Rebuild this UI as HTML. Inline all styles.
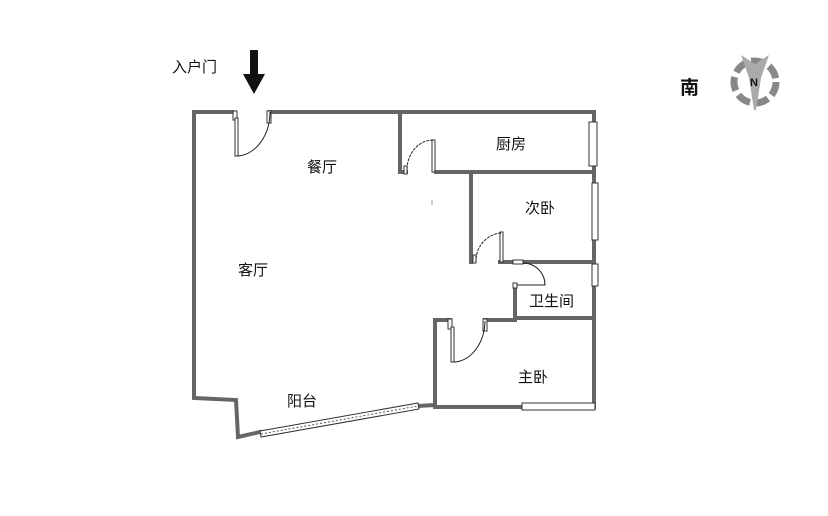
<!DOCTYPE html>
<html><head><meta charset="utf-8"><style>
html,body{margin:0;padding:0;background:#fff;width:828px;height:516px;overflow:hidden}
text{font-family:"Liberation Sans","Noto Sans CJK SC",sans-serif;font-size:15px;fill:#111}
</style></head><body>
<svg width="828" height="516" viewBox="0 0 828 516">
<g stroke="#666" stroke-width="4" fill="none" stroke-linecap="square">
<polyline points="232,112 194,112 194,398 236,400 238,437 260,432"/>
<polyline points="418,406 435,405"/>
<line x1="435" y1="407" x2="522" y2="407"/>
<line x1="270" y1="112" x2="594" y2="112"/>
<line x1="594" y1="112" x2="594" y2="122"/>
<line x1="594" y1="166" x2="594" y2="183"/>
<line x1="594" y1="240" x2="594" y2="264"/>
<line x1="594" y1="286" x2="594" y2="407"/>
<line x1="400" y1="112" x2="400" y2="172"/>
<line x1="400" y1="172" x2="406" y2="172"/>
<line x1="436" y1="172" x2="594" y2="172"/>
<line x1="471" y1="172" x2="471" y2="262"/>
<line x1="500" y1="262" x2="594" y2="262"/>
<line x1="515" y1="285" x2="515" y2="318"/>
<line x1="515" y1="318" x2="594" y2="318"/>
<line x1="435" y1="320" x2="450" y2="320"/>
<line x1="485" y1="320" x2="515" y2="320"/>
<line x1="435" y1="320" x2="435" y2="407"/>
</g>
<g stroke="#333" stroke-width="1" fill="#fff">
<rect x="233" y="111" width="4" height="9"/><rect x="235" y="118" width="3" height="38"/><rect x="267" y="111" width="4" height="12"/>
<rect x="432" y="140" width="3" height="32"/><rect x="404" y="166" width="3" height="8"/>
<rect x="500" y="232" width="3" height="30"/><rect x="473" y="255" width="3" height="8"/>
<rect x="448" y="319" width="4" height="10"/><rect x="451" y="327" width="3" height="35"/><rect x="483" y="319" width="4" height="12"/>
<rect x="589" y="122" width="8" height="44"/><rect x="592" y="183" width="6" height="57"/><rect x="592" y="264" width="6" height="22"/>
<rect x="522" y="403" width="73" height="7"/>
<polygon points="260,431 418,403 419,409 261,437"/>
<rect x="513" y="283" width="4" height="5"/><rect x="513" y="260" width="10" height="4"/>
</g>
<line x1="261" y1="434" x2="418" y2="406" stroke="#555" stroke-dasharray="2,2"/>
<g stroke="#222" stroke-width="1" fill="none">
<path d="M237,156 A34,44 0 0 0 270,112"/>
<path d="M433,140 A26,30 0 0 0 407,170" stroke-dasharray="3,1"/>
<path d="M501,233 A27,28 0 0 0 476,262" stroke-dasharray="3,1"/>
<path d="M453,362 A32,42 0 0 0 485,321"/>
<path d="M523,263 A22,22 0 0 1 545,285 L517,285"/>
</g>
<line x1="432" y1="200" x2="432" y2="205" stroke="#999"/>
<polygon points="250,50 258,50 258,74 265,74 254,94 243,74 250,74" fill="#111"/>
<text x="172" y="72">入户门</text>
<text x="307" y="172">餐厅</text>
<text x="496" y="149">厨房</text>
<text x="525" y="213">次卧</text>
<text x="238" y="275">客厅</text>
<text x="529" y="306">卫生间</text>
<text x="518" y="382">主卧</text>
<text x="287" y="406">阳台</text>
<text x="680" y="94" style="font-size:19px;font-weight:bold">南</text>
<g transform="translate(755,82)">
<circle r="21" fill="none" stroke="#888" stroke-width="7" stroke-dasharray="14,5"/>
<polygon points="-14,-27 0,-18 14,-27 6,-4 1,28 -1,28 -6,-4" fill="#aaa"/>
<text x="-5" y="4" style="font-size:11px;font-weight:bold">N</text>
</g>
</svg>
</body></html>
